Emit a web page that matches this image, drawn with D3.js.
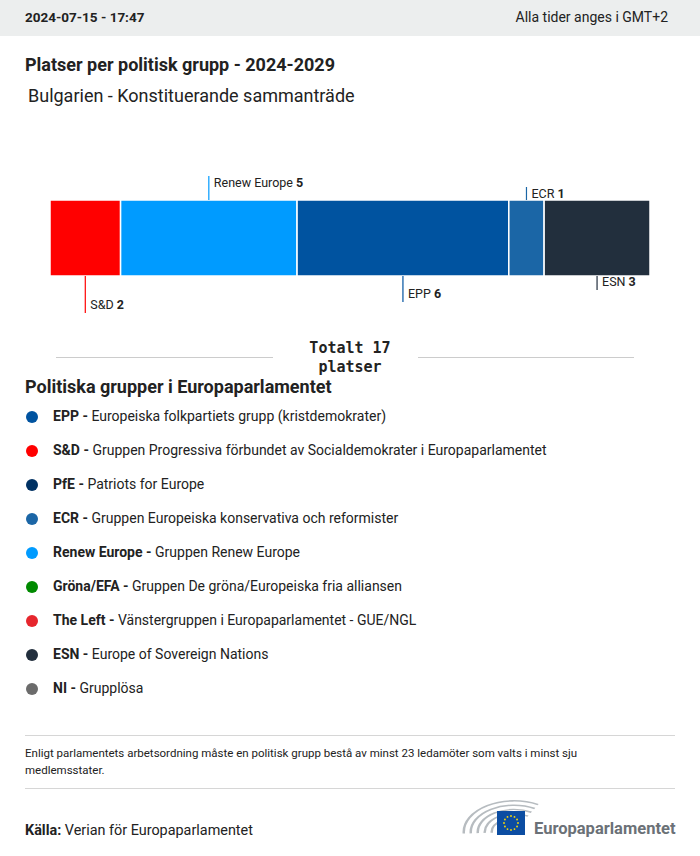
<!DOCTYPE html>
<html>
<head>
<meta charset="utf-8">
<script src="https://cdn.jsdelivr.net/npm/d3@7"></script>
<style>
  body { margin: 0; background: #fff; }
  svg { display: block; font-family: Roboto, "Noto Sans", sans-serif; }
</style>
</head>
<body>
<svg id="chart" width="700" height="856"></svg>
<script>
// bar data (order as drawn)
const groups = ["S&D", "Renew Europe", "EPP", "ECR", "ESN"];
const seats = [2, 5, 6, 1, 3];
const barColors = ["#ff0000", "#009bff", "#0053a0", "#1b66a6", "#222f3d"];

// legend
const legendAbbr = ["EPP", "S&D", "PfE", "ECR", "Renew Europe", "Gröna/EFA", "The Left", "ESN", "NI"];
const legendText = [
  "Europeiska folkpartiets grupp (kristdemokrater)",
  "Gruppen Progressiva förbundet av Socialdemokrater i Europaparlamentet",
  "Patriots for Europe",
  "Gruppen Europeiska konservativa och reformister",
  "Gruppen Renew Europe",
  "Gruppen De gröna/Europeiska fria alliansen",
  "Vänstergruppen i Europaparlamentet - GUE/NGL",
  "Europe of Sovereign Nations",
  "Grupplösa"
];
const legendColors = ["#0053a0", "#ff0000", "#003163", "#1b66a6", "#009bff", "#008a00", "#e6262d", "#222f3d", "#6b6b6b"];

const total = d3.sum(seats);
const svg = d3.select("#chart");

// header
svg.append("rect").attr("width", 700).attr("height", 36).attr("fill", "#eceeee");
svg.append("text").attr("x", 25).attr("y", 22).attr("font-size", 13.5).attr("font-weight", "bold")
  .attr("fill", "#222").text("2024-07-15 - 17:47");
svg.append("text").attr("x", 668).attr("y", 22).attr("font-size", 14).attr("text-anchor", "end")
  .attr("fill", "#222").text("Alla tider anges i GMT+2");

svg.append("text").attr("x", 25).attr("y", 71).attr("font-size", 18).attr("font-weight", "bold")
  .attr("fill", "#222").text("Platser per politisk grupp - 2024-2029");
svg.append("text").attr("x", 28).attr("y", 102).attr("font-size", 18)
  .attr("fill", "#222").text("Bulgarien - Konstituerande sammanträde");

// stacked bar
const x = d3.scaleLinear().domain([0, total]).range([50, 650]);
const barTop = 200, barH = 76;
let acc = 0;
const segs = seats.map((s, i) => {
  const d = { name: groups[i], value: s, start: acc, end: acc + s, color: barColors[i], i };
  acc += s;
  return d;
});

svg.append("g").selectAll("rect")
  .data(segs)
  .join("rect")
  .attr("x", (d) => x(d.start))
  .attr("y", barTop)
  .attr("width", (d) => x(d.end) - x(d.start))
  .attr("height", barH)
  .attr("fill", (d) => d.color)
  .attr("stroke", "#fff")
  .attr("stroke-width", 1.5);

// labels: odd index above, even below; leader lengths staggered
const upLen = [24, 13];
const downLen = [37, 26, 14];
const lab = svg.append("g").selectAll("g").data(segs).join("g");
lab.each(function (d) {
  const g = d3.select(this);
  const cx = (x(d.start) + x(d.end)) / 2;
  const up = d.i % 2 === 1;
  const len = up ? upLen[(d.i - 1) / 2] : downLen[d.i / 2];
  const y1 = up ? barTop : barTop + barH;
  const y2 = up ? y1 - len : y1 + len;
  g.append("line").attr("x1", cx).attr("x2", cx).attr("y1", y1).attr("y2", y2)
    .attr("stroke", d.color).attr("stroke-width", 1.2);
  const t = g.append("text").attr("x", cx + 5)
    .attr("y", up ? y2 + 11 : y2 - 4)
    .attr("font-size", 12.5).attr("fill", "#222");
  t.append("tspan").text(d.name + " ");
  t.append("tspan").attr("font-weight", "bold").text(d.value);
});

// total
svg.append("line").attr("x1", 56).attr("x2", 273).attr("y1", 357.5).attr("y2", 357.5).attr("stroke", "#cccccc");
svg.append("line").attr("x1", 418).attr("x2", 634).attr("y1", 357.5).attr("y2", 357.5).attr("stroke", "#cccccc");
const tot = svg.append("text").attr("text-anchor", "middle").attr("font-family", "'DejaVu Sans Mono', monospace")
  .attr("font-weight", "bold").attr("font-size", 15).attr("fill", "#222");
tot.append("tspan").attr("x", 350).attr("y", 353).text("Totalt " + total);
tot.append("tspan").attr("x", 350).attr("y", 372).text("platser");

// legend
svg.append("text").attr("x", 25).attr("y", 393).attr("font-size", 18).attr("font-weight", "bold")
  .attr("fill", "#222").text("Politiska grupper i Europaparlamentet");
const ly = d3.scaleLinear().domain([0, 1]).range([416, 450]);
const items = svg.append("g").selectAll("g").data(legendAbbr).join("g")
  .attr("transform", (d, i) => `translate(0,${ly(i)})`);
items.append("circle").attr("cx", 32).attr("cy", 1).attr("r", 6).attr("fill", (d, i) => legendColors[i]);
const lt = items.append("text").attr("x", 53).attr("y", 5).attr("font-size", 14).attr("fill", "#222");
lt.append("tspan").attr("font-weight", "bold").text((d) => d + " - ");
lt.append("tspan").text((d, i) => legendText[i]);

// note
svg.append("line").attr("x1", 25).attr("x2", 675).attr("y1", 735.5).attr("y2", 735.5).attr("stroke", "#d6d6d6");
svg.append("text").attr("x", 25).attr("y", 757).attr("font-size", 11.5).attr("fill", "#222")
  .text("Enligt parlamentets arbetsordning måste en politisk grupp bestå av minst 23 ledamöter som valts i minst sju");
svg.append("text").attr("x", 25).attr("y", 774).attr("font-size", 11.5).attr("fill", "#222")
  .text("medlemsstater.");
svg.append("line").attr("x1", 25).attr("x2", 675).attr("y1", 788.5).attr("y2", 788.5).attr("stroke", "#d6d6d6");

const src = svg.append("text").attr("x", 25).attr("y", 835).attr("font-size", 14.4).attr("fill", "#222");
src.append("tspan").attr("font-weight", "bold").text("Källa: ");
src.append("tspan").text("Verian för Europaparlamentet");

// logo
const logo = svg.append("g");
const arc = d3.arc();
d3.range(6).forEach((k) => {
  const r = 14 + k * 7;
  logo.append("path")
    .attr("transform", "translate(514,832) scale(1,0.62)")
    .attr("d", arc({ innerRadius: r, outerRadius: r + 2.5, startAngle: -Math.PI / 2 - 0.05, endAngle: 0.5 }))
    .attr("fill", "#b7bcc0");
});
logo.append("rect").attr("x", 497).attr("y", 811).attr("width", 28).attr("height", 24).attr("fill", "#0c4da2");
d3.range(12).forEach((k) => {
  const a = (k / 12) * 2 * Math.PI;
  logo.append("circle").attr("cx", 511 + 7 * Math.sin(a)).attr("cy", 823 - 7 * Math.cos(a))
    .attr("r", 0.9).attr("fill", "#ffdd00");
});
logo.append("text").attr("x", 534).attr("y", 834).attr("font-size", 16.5).attr("font-weight", "bold")
  .attr("fill", "#6b7177").text("Europaparlamentet");
</script>
</body>
</html>
